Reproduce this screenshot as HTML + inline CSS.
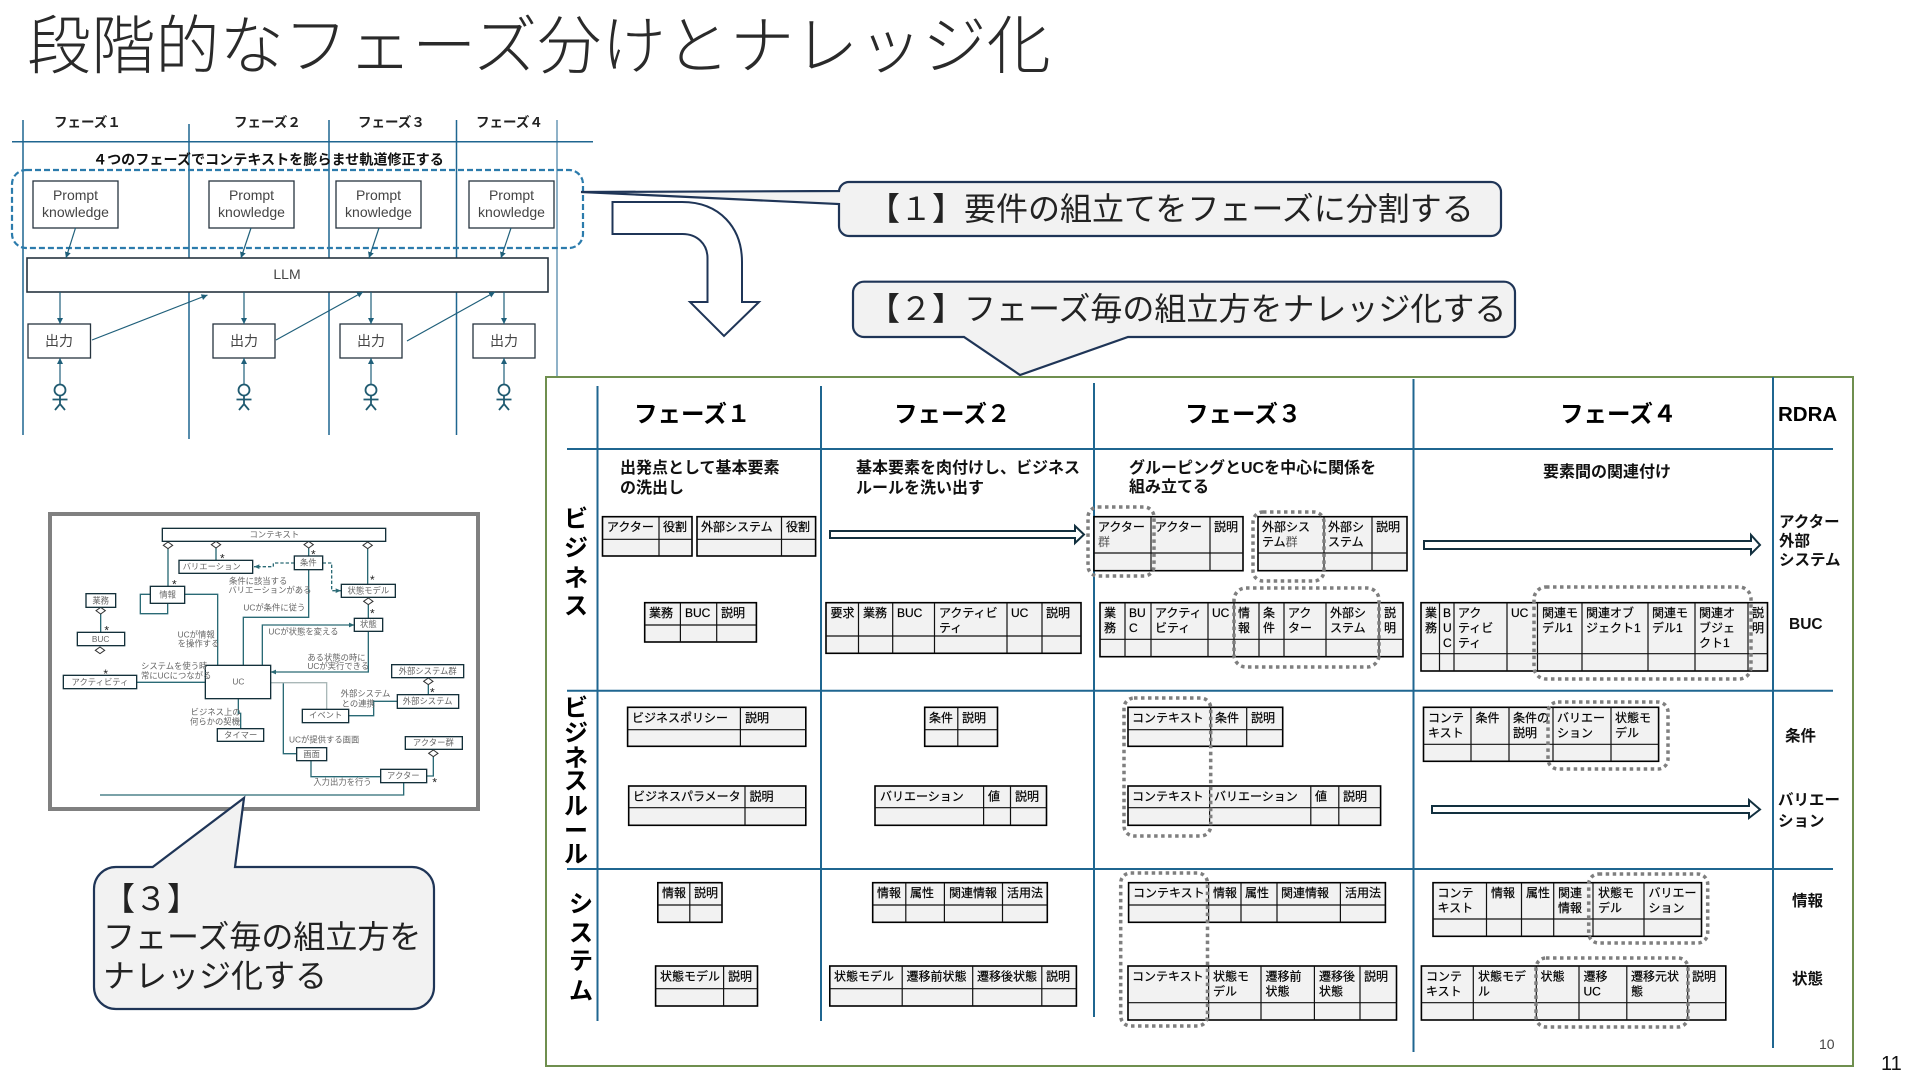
<!DOCTYPE html>
<html lang="ja">
<head>
<meta charset="utf-8">
<title>段階的なフェーズ分けとナレッジ化</title>
<style>
html,body{margin:0;padding:0;background:#fff;width:1920px;height:1080px;overflow:hidden}
svg{position:absolute;left:0;top:0;display:block}
text{font-family:"Liberation Sans","Noto Sans CJK JP",sans-serif;fill:#000}
.v{stroke:#1f6690;stroke-width:2;fill:none}
.v1{stroke:#1f6690;stroke-width:1.5;fill:none}
.box{fill:#fff;stroke:#26343f;stroke-width:1.3}
.bl{font-size:14px;text-anchor:middle;fill:#444}
.a{stroke:#1f5f7a;stroke-width:1.2;fill:none;marker-end:url(#m)}
.ph{font-size:13.5px;font-weight:700;fill:#222}
.hd{font-size:23.5px;font-weight:700}
.sub{font-size:16px;font-weight:700;fill:#111}
.side{font-size:24px;font-weight:700;text-anchor:middle}
.r{font-size:15.5px;font-weight:700;fill:#111}
.t rect{fill:#f2f2f2;stroke:#000;stroke-width:1.6}
.t path{stroke:#111;stroke-width:1.2;fill:none}
.t text{font-size:12px;fill:#000;stroke:#000;stroke-width:.2;transform:translateY(-1px)}
.d{fill:none;stroke:#7f7f7f;stroke-width:3.5;stroke-dasharray:3.5 3.5}
.ba{fill:#fff;stroke:#12303f;stroke-width:2}
.co{fill:#f2f2f2;stroke:#1f3557;stroke-width:2.2}
.ct{font-size:32px;fill:#222}
.u rect{fill:#fff;stroke:#14303a;stroke-width:4}
.u path{fill:none;stroke:#2a6a75;stroke-width:4}
.u path.k{fill:#fff;stroke:#333;stroke-width:3}
.u text{font-size:25px;fill:#666}
.u text.c{text-anchor:middle}
.u text.s{font-size:36px;fill:#222;text-anchor:middle}
</style>
</head>
<body>
<svg width="1920" height="1080" viewBox="0 0 1920 1080" xmlns="http://www.w3.org/2000/svg">
<defs>
<marker id="m" markerUnits="userSpaceOnUse" markerWidth="7" markerHeight="7" refX="6" refY="3" orient="auto"><path d="M0,0L6,3L0,6Z" fill="#1f5f7a"/></marker>
<marker id="m2" markerUnits="userSpaceOnUse" markerWidth="20" markerHeight="20" refX="16" refY="8" orient="auto"><path d="M0,1L16,8L0,15Z" fill="#2a6a75"/></marker>
</defs>

<!-- Title -->
<text x="27" y="68.500" style="font-size:64.2px;font-weight:300;fill:#2a2a2a">段階的なフェーズ分けとナレッジ化</text>

<!-- Left-top swimlanes -->
<path class="v1" d="M23,120V435M189,124V439M329,120V435M456.5,120V435M12,141.7H593"/>
<path stroke="#1f6690" stroke-width="1" fill="none" d="M557,120V376"/>
<text class="ph" x="54" y="127">フェーズ１</text>
<text class="ph" x="234" y="127">フェーズ２</text>
<text class="ph" x="358" y="127">フェーズ３</text>
<text class="ph" x="476" y="127">フェーズ４</text>
<text x="93" y="164.5" style="font-size:14.1px;font-weight:700;fill:#111">４つのフェーズでコンテキストを膨らませ軌道修正する</text>
<rect x="12" y="170" width="571" height="78" rx="14" fill="none" stroke="#2b7bac" stroke-width="2.2" stroke-dasharray="6 3"/>
<rect class="box" x="33" y="181" width="85" height="47"/>
<rect class="box" x="209" y="181" width="85" height="47"/>
<rect class="box" x="336" y="181" width="85" height="47"/>
<rect class="box" x="469" y="181" width="85" height="47"/>
<text class="bl" x="75.5" y="200">Prompt</text><text class="bl" x="75.5" y="217">knowledge</text>
<text class="bl" x="251.5" y="200">Prompt</text><text class="bl" x="251.5" y="217">knowledge</text>
<text class="bl" x="378.5" y="200">Prompt</text><text class="bl" x="378.5" y="217">knowledge</text>
<text class="bl" x="511.5" y="200">Prompt</text><text class="bl" x="511.5" y="217">knowledge</text>
<rect class="box" x="27" y="258" width="521" height="34" style="stroke-width:1.6"/>
<text class="bl" x="287" y="279">LLM</text>
<path class="a" d="M75.5,228L66,258"/><path class="a" d="M251,228L241,258"/><path class="a" d="M379,228L369,258"/><path class="a" d="M511,228L501,258"/>
<rect class="box" x="28" y="324" width="62.5" height="34"/>
<rect class="box" x="213" y="324" width="62" height="34"/>
<rect class="box" x="340" y="324" width="62" height="34"/>
<rect class="box" x="473" y="324" width="62" height="34"/>
<text class="bl" x="59" y="346">出力</text><text class="bl" x="244" y="346">出力</text><text class="bl" x="371" y="346">出力</text><text class="bl" x="504" y="346">出力</text>
<path class="a" d="M60,292V324"/><path class="a" d="M244,292V324"/><path class="a" d="M371,292V324"/><path class="a" d="M504,292V324"/>
<path class="a" d="M92,340L207.5,295"/><path class="a" d="M276,340L363,292"/><path class="a" d="M407,341L495,292"/>
<path class="a" d="M60,384V358"/><path class="a" d="M244,384V358"/><path class="a" d="M371,384V358"/><path class="a" d="M504,384V358"/>
<g fill="none" stroke="#1f5a70" stroke-width="1.8">
<circle cx="60" cy="390" r="5.5"/><path d="M60,395.5V404M52.5,399.5H67.5M55,410L60,404L65,410"/>
<circle cx="244" cy="390" r="5.5"/><path d="M244,395.5V404M236.5,399.5H251.5M239,410L244,404L249,410"/>
<circle cx="371" cy="390" r="5.5"/><path d="M371,395.5V404M363.5,399.5H378.5M366,410L371,404L376,410"/>
<circle cx="504" cy="390" r="5.5"/><path d="M504,395.5V404M496.5,399.5H511.5M499,410L504,404L509,410"/>
</g>

<!-- Bent arrow -->
<path d="M612.5,202H682C720,202 742,228 742,262V302H759L724,336L690,302H707.5V258C707.5,244 697,234 682.5,234H612.5Z" fill="#fff" stroke="#1f3557" stroke-width="2"/>

<!-- Metamodel picture frame -->
<rect x="50" y="514" width="428" height="295" fill="#fff" stroke="#808080" stroke-width="4"/>
<g class="u" transform="translate(30,500) scale(.33333)">
<path d="M414,146V259M558,144V181M836,144V168M1013,146V253M1015,314V355M212,342V397M361,283H331V341H413V310M464,283H563V496M836,209V352H640V496M320,547H526M760,548V761H800M956,647H1031V604H1102M1195,554V584M625,596V640H632V686M843,782V830H1052M1210,770V828H1190M1121,848V885H210"/>
<path style="stroke:#aab8b8" d="M722,548H890V628"/>
<path stroke-dasharray="10 6" d="M793,189H730V200H672" marker-end="url(#m2)"/>
<path stroke-dasharray="10 6" d="M878,189H905V272H933" marker-end="url(#m2)"/>
<path d="M697,496V375H973" marker-end="url(#m2)"/>
<path d="M1015,394V516H722" marker-end="url(#m2)"/>
<path class="k" d="M400,136L414,126L428,136L414,146ZM544,134L558,124L572,134L558,144ZM822,134L836,124L850,134L836,144ZM999,136L1013,126L1027,136L1013,146ZM1001,304L1015,294L1029,304L1015,314ZM198,332L212,322L226,332L212,342ZM196,451L210,441L224,451L210,461ZM1181,544L1195,534L1209,544L1195,554ZM1196,760L1210,750L1224,760L1210,770Z"/>
<rect x="397" y="85" width="670" height="39"/><text class="c" x="733" y="112">コンテキスト</text>
<rect x="447" y="181" width="221" height="39"/><text class="c" x="545" y="209">バリエーション</text>
<rect x="793" y="168" width="85" height="41"/><text class="c" x="835" y="197">条件</text>
<rect x="934" y="253" width="162" height="39"/><text class="c" x="1015" y="281">状態モデル</text>
<rect x="973" y="355" width="85" height="39"/><text class="c" x="1015" y="381">状態</text>
<rect x="361" y="259" width="103" height="51"/><text class="c" x="413" y="293">情報</text>
<rect x="168" y="281" width="89" height="41"/><text class="c" x="212" y="310">業務</text>
<rect x="142" y="397" width="142" height="40"/><text class="c" x="212" y="426">BUC</text>
<rect x="100" y="526" width="220" height="40"/><text class="c" x="210" y="555">アクティビティ</text>
<rect x="526" y="496" width="196" height="100"/><text class="c" x="625" y="553">UC</text>
<rect x="817" y="628" width="139" height="40"/><text class="c" x="887" y="654">イベント</text>
<rect x="1102" y="584" width="184" height="41"/><text class="c" x="1193" y="612">外部システム</text>
<rect x="1085" y="494" width="216" height="39"/><text class="c" x="1193" y="522">外部システム群</text>
<rect x="562" y="686" width="139" height="38"/><text class="c" x="632" y="714">タイマー</text>
<rect x="800" y="743" width="90" height="39"/><text class="c" x="845" y="771">画面</text>
<rect x="1052" y="808" width="138" height="40"/><text class="c" x="1120" y="836">アクター</text>
<rect x="1126" y="710" width="171" height="38"/><text class="c" x="1210" y="737">アクター群</text>
<text class="s" x="433" y="266">*</text><text class="s" x="577" y="188">*</text><text class="s" x="850" y="175">*</text><text class="s" x="1027" y="252">*</text><text class="s" x="1027" y="352">*</text><text class="s" x="230" y="403">*</text><text class="s" x="227" y="534">*</text><text class="s" x="1207" y="590">*</text><text class="s" x="1214" y="860">*</text>
<text x="597" y="252">条件に該当する</text><text x="595" y="279">バリエーションがある</text>
<text x="640" y="332">UCが条件に従う</text>
<text x="443" y="412">UCが情報</text><text x="443" y="439">を操作する</text>
<text x="715" y="404">UCが状態を変える</text>
<text x="832" y="481">ある状態の時に</text><text x="832" y="507">UCが実行できる</text>
<text x="333" y="507">システムを使う時</text><text x="333" y="536">常にUCにつながる</text>
<text x="932" y="590">外部システム</text><text x="935" y="619">との連携</text>
<text x="482" y="645">ビジネス上の</text><text x="480" y="674">何らかの契機</text>
<text x="777" y="727">UCが提供する画面</text>
<text x="850" y="855">入力出力を行う</text>
</g>

<!-- Callouts -->
<path class="co" d="M849,182H1491a10,10 0 0 1 10,10V226a10,10 0 0 1 -10,10H849a10,10 0 0 1 -10,-10V204L581,192L839,191a10,10 0 0 1 10,-9Z"/>
<text class="ct" x="868" y="220">【１】要件の組立てをフェーズに分割する</text>
<path class="co" d="M864,281.7H1504a11,11 0 0 1 11,11V326a11,11 0 0 1 -11,11H1128L1020,375L964,337H864a11,11 0 0 1 -11,-11V292.7a11,11 0 0 1 11,-11Z"/>
<path class="co" d="M116,867H152.7L244,798L235,867H412a22,22 0 0 1 22,22V987a22,22 0 0 1 -22,22H116a22,22 0 0 1 -22,-22V889a22,22 0 0 1 22,-22Z"/>
<text class="ct" x="868" y="320">【２】フェーズ毎の組立方をナレッジ化する</text>
<text class="ct" x="103" y="910">【３】</text>
<text class="ct" x="103" y="948">フェーズ毎の組立方を</text>
<text class="ct" x="103" y="987">ナレッジ化する</text>

<!-- Main frame -->
<rect x="546" y="377" width="1307" height="689" fill="#fff" stroke="#6f8f4f" stroke-width="2" style="fill-opacity:0"/>
<path class="v" d="M597.500,386V1021M821,386V1021M1094,383V1017M1413.500,379V1052M1773,377V1048M567,449H1833M567,690.700H1833M567,869H1833"/>

<!-- Header -->
<text class="hd" x="634" y="422">フェーズ１</text>
<text class="hd" x="894" y="422">フェーズ２</text>
<text class="hd" x="1185" y="422">フェーズ３</text>
<text class="hd" x="1560" y="422">フェーズ４</text>
<text x="1778" y="421" style="font-size:20.500px;font-weight:700">RDRA</text>

<text class="sub" x="620" y="473">出発点として基本要素</text><text class="sub" x="620" y="493">の洗出し</text>
<text class="sub" x="856" y="473">基本要素を肉付けし、ビジネス</text><text class="sub" x="856" y="493">ルールを洗い出す</text>
<text class="sub" x="1129" y="473">グルーピングとUCを中心に関係を</text><text class="sub" x="1129" y="492">組み立てる</text>
<text class="sub" x="1543" y="477">要素間の関連付け</text>

<!-- Side labels -->
<text class="side" x="576" y="527">ビ</text><text class="side" x="576" y="556">ジ</text><text class="side" x="576" y="586">ネ</text><text class="side" x="576" y="614">ス</text>
<text class="side" x="576" y="716">ビ</text><text class="side" x="576" y="741">ジ</text><text class="side" x="576" y="766">ネ</text><text class="side" x="576" y="789">ス</text><text class="side" x="576" y="814">ル</text><text class="side" x="576" y="839">ー</text><text class="side" x="576" y="862">ル</text>
<text class="side" x="581" y="912">シ</text><text class="side" x="581" y="941">ス</text><text class="side" x="581" y="969">テ</text><text class="side" x="581" y="999">ム</text>

<!-- Right labels -->
<text class="r" x="1779" y="527">アクター</text><text class="r" x="1779" y="546">外部</text><text class="r" x="1779" y="565">システム</text>
<text class="r" x="1789" y="629">BUC</text>
<text class="r" x="1785" y="741">条件</text>
<text class="r" x="1778" y="805">バリエー</text><text class="r" x="1778" y="826">ション</text>
<text class="r" x="1792" y="906">情報</text><text class="r" x="1792" y="984">状態</text>
<text x="1819" y="1049" style="font-size:14px;fill:#444">10</text>
<text x="1881" y="1070" style="font-size:20px;fill:#111">11</text>

<!-- Block arrows -->
<path class="ba" d="M830,531H1075V526L1084,534.500L1075,543V538H830Z"/>
<path class="ba" d="M1424,541H1751V535L1760,545L1751,554V549H1424Z"/>
<path class="ba" d="M1432,806H1749V800L1760,809.500L1749,818V813H1432Z"/>

<!-- Phase 1 -->
<g class="t"><rect x="602.500" y="516.700" width="89.500" height="39.300"/><path d="M659,516.700V556M602.500,539.300H692"/><text x="607" y="532">アクター</text><text x="663" y="532">役割</text></g>
<g class="t"><rect x="697" y="516.700" width="118.600" height="39.300"/><path d="M781.500,516.700V556M697,539.300H815.600"/><text x="701" y="532">外部システム</text><text x="786" y="532">役割</text></g>
<g class="t"><rect x="644.700" y="602.700" width="111.700" height="39.300"/><path d="M680.400,602.700V642M716.700,602.700V642M644.700,625H756.400"/><text x="649" y="618">業務</text><text x="685" y="618">BUC</text><text x="721" y="618">説明</text></g>
<g class="t"><rect x="627.600" y="707.300" width="178.200" height="39"/><path d="M740.400,707.300V746.300M627.600,729.700H805.800"/><text x="632" y="723">ビジネスポリシー</text><text x="745" y="723">説明</text></g>
<g class="t"><rect x="628.700" y="786" width="177.100" height="39.300"/><path d="M745,786V825.300M628.700,807.700H805.800"/><text x="633" y="801.500">ビジネスパラメータ</text><text x="749.500" y="801.500">説明</text></g>
<g class="t"><rect x="657.800" y="882.700" width="64.200" height="39.600"/><path d="M689.800,882.700V922.300M657.800,905H722"/><text x="662" y="898">情報</text><text x="694" y="898">説明</text></g>
<g class="t"><rect x="655.600" y="966" width="101.900" height="40"/><path d="M723.600,966V1006M655.600,988.700H757.500"/><text x="660" y="981.500">状態モデル</text><text x="728" y="981.500">説明</text></g>

<!-- Phase 2 -->
<g class="t"><rect x="826" y="602.700" width="255" height="50.600"/><path d="M858.500,602.700V653.300M892.700,602.700V653.300M934.500,602.700V653.300M1007,602.700V653.300M1042,602.700V653.300M826,636H1081"/><text x="830.500" y="618">要求</text><text x="863" y="618">業務</text><text x="897" y="618">BUC</text><text x="939" y="618">アクティビ</text><text x="939" y="633">ティ</text><text x="1011" y="618">UC</text><text x="1046" y="618">説明</text></g>
<g class="t"><rect x="924.700" y="707.300" width="72.800" height="39"/><path d="M957.800,707.300V746.300M924.700,729.700H997.500"/><text x="929" y="723">条件</text><text x="962" y="723">説明</text></g>
<g class="t"><rect x="875" y="786" width="171.500" height="39.300"/><path d="M983.600,786V825.300M1010.500,786V825.300M875,807.700H1046.500"/><text x="880" y="801.500">バリエーション</text><text x="988" y="801.500">値</text><text x="1015" y="801.500">説明</text></g>
<g class="t"><rect x="872.700" y="882.700" width="174.600" height="39.600"/><path d="M905.800,882.700V922.300M944.400,882.700V922.300M1002.500,882.700V922.300M872.700,905H1047.300"/><text x="877" y="898">情報</text><text x="910" y="898">属性</text><text x="949" y="898">関連情報</text><text x="1007" y="898">活用法</text></g>
<g class="t"><rect x="829.800" y="966" width="246.600" height="40"/><path d="M902.200,966V1006M972.700,966V1006M1041.800,966V1006M829.800,988.700H1076.400"/><text x="834" y="981.500">状態モデル</text><text x="906.500" y="981.500">遷移前状態</text><text x="977" y="981.500">遷移後状態</text><text x="1046" y="981.500">説明</text></g>

<!-- Phase 3 -->
<g class="t"><rect x="1094" y="516.700" width="149" height="54"/><path d="M1151,516.700V570.700M1210,516.700V570.700M1094,553H1243"/><text x="1098" y="532">アクター</text><text x="1098" y="547" style="fill:#555;stroke:none">群</text><text x="1155" y="532">アクター</text><text x="1214" y="532">説明</text></g>
<g class="t"><rect x="1258" y="516.700" width="149" height="54"/><path d="M1324,516.700V570.700M1372,516.700V570.700M1258,553H1407"/><text x="1262" y="532">外部シス</text><text x="1262" y="547">テム<tspan style="fill:#555;stroke:none">群</tspan></text><text x="1328" y="532">外部シ</text><text x="1328" y="547">ステム</text><text x="1376" y="532">説明</text></g>
<g class="t"><rect x="1100" y="602.700" width="303" height="54"/><path d="M1125,602.700V656.700M1151,602.700V656.700M1208,602.700V656.700M1234,602.700V656.700M1259,602.700V656.700M1284,602.700V656.700M1326,602.700V656.700M1379,602.700V656.700M1100,639.300H1403"/><text x="1104" y="618">業</text><text x="1104" y="633">務</text><text x="1129" y="618">BU</text><text x="1129" y="633">C</text><text x="1155" y="618">アクティ</text><text x="1155" y="633">ビティ</text><text x="1212" y="618">UC</text><text x="1238" y="618">情</text><text x="1238" y="633">報</text><text x="1263" y="618">条</text><text x="1263" y="633">件</text><text x="1288" y="618">アク</text><text x="1288" y="633">ター</text><text x="1330" y="618">外部シ</text><text x="1330" y="633">ステム</text><text x="1384" y="618">説</text><text x="1384" y="633">明</text></g>
<g class="t"><rect x="1128" y="707.300" width="154.700" height="39"/><path d="M1210.700,707.300V746.300M1246.700,707.300V746.300M1128,729.700H1282.700"/><text x="1132" y="723">コンテキスト</text><text x="1215" y="723">条件</text><text x="1251" y="723">説明</text></g>
<g class="t"><rect x="1128" y="786" width="252.600" height="39.300"/><path d="M1209.600,786V825.300M1310.800,786V825.300M1338.800,786V825.300M1128,807.700H1380.600"/><text x="1132" y="801.500">コンテキスト</text><text x="1214" y="801.500">バリエーション</text><text x="1315" y="801.500">値</text><text x="1343" y="801.500">説明</text></g>
<g class="t"><rect x="1128.600" y="882.700" width="256.800" height="39.600"/><path d="M1208.600,882.700V922.300M1241,882.700V922.300M1277,882.700V922.300M1340.400,882.700V922.300M1128.600,905H1385.400"/><text x="1133" y="898">コンテキスト</text><text x="1213" y="898">情報</text><text x="1245" y="898">属性</text><text x="1281" y="898">関連情報</text><text x="1345" y="898">活用法</text></g>
<g class="t"><rect x="1128" y="966" width="268.500" height="54"/><path d="M1208.600,966V1020M1261,966V1020M1314.400,966V1020M1360,966V1020M1128,1002.700H1396.500"/><text x="1132" y="981.500">コンテキスト</text><text x="1213" y="981.500">状態モ</text><text x="1213" y="996.500">デル</text><text x="1265.500" y="981.500">遷移前</text><text x="1265.500" y="996.500">状態</text><text x="1319" y="981.500">遷移後</text><text x="1319" y="996.500">状態</text><text x="1364" y="981.500">説明</text></g>

<!-- Phase 4 -->
<g class="t"><rect x="1421" y="602.700" width="346.500" height="68.300"/><path d="M1439.500,602.700V671M1454,602.700V671M1507,602.700V671M1537.500,602.700V671M1582,602.700V671M1648,602.700V671M1695,602.700V671M1748,602.700V671M1421,653.700H1767.500"/><text x="1425" y="618">業</text><text x="1425" y="633">務</text><text x="1443" y="618">B</text><text x="1443" y="633">U</text><text x="1443" y="648">C</text><text x="1458" y="618">アク</text><text x="1458" y="633">ティビ</text><text x="1458" y="648">ティ</text><text x="1511" y="618">UC</text><text x="1542" y="618">関連モ</text><text x="1542" y="633">デル1</text><text x="1586" y="618">関連オブ</text><text x="1586" y="633">ジェクト1</text><text x="1652" y="618">関連モ</text><text x="1652" y="633">デル1</text><text x="1699" y="618">関連オ</text><text x="1699" y="633">ブジェ</text><text x="1699" y="648">クト1</text><text x="1752" y="618">説</text><text x="1752" y="633">明</text></g>
<g class="t"><rect x="1423.500" y="707.300" width="235.100" height="54"/><path d="M1471,707.300V761.300M1509,707.300V761.300M1553,707.300V761.300M1611,707.300V761.300M1423.500,744.300H1658.600"/><text x="1428" y="723">コンテ</text><text x="1428" y="738">キスト</text><text x="1475.500" y="723">条件</text><text x="1513" y="723">条件の</text><text x="1513" y="738">説明</text><text x="1557" y="723">バリエー</text><text x="1557" y="738">ション</text><text x="1615" y="723">状態モ</text><text x="1615" y="738">デル</text></g>
<g class="t"><rect x="1433" y="882.700" width="268.500" height="53.600"/><path d="M1486.500,882.700V936.300M1521.500,882.700V936.300M1553.700,882.700V936.300M1593,882.700V936.300M1644,882.700V936.300M1433,919H1701.500"/><text x="1437.500" y="898">コンテ</text><text x="1437.500" y="913">キスト</text><text x="1491" y="898">情報</text><text x="1526" y="898">属性</text><text x="1558" y="898">関連</text><text x="1558" y="913">情報</text><text x="1598" y="898">状態モ</text><text x="1598" y="913">デル</text><text x="1648.500" y="898">バリエー</text><text x="1648.500" y="913">ション</text></g>
<g class="t"><rect x="1421.400" y="966" width="304.400" height="54"/><path d="M1473.300,966V1020M1536.300,966V1020M1579,966V1020M1626.800,966V1020M1687.700,966V1020M1421.400,1002.700H1725.800"/><text x="1426" y="981.500">コンテ</text><text x="1426" y="996.500">キスト</text><text x="1478" y="981.500">状態モデ</text><text x="1478" y="996.500">ル</text><text x="1540.500" y="981.500">状態</text><text x="1583.500" y="981.500">遷移</text><text x="1583.500" y="996.500">UC</text><text x="1631" y="981.500">遷移元状</text><text x="1631" y="996.500">態</text><text x="1692" y="981.500">説明</text></g>

<!-- Dotted highlights -->
<rect class="d" x="1088" y="507" width="66" height="69" rx="10"/>
<rect class="d" x="1253" y="512" width="71" height="69" rx="10"/>
<rect class="d" x="1234" y="588" width="145" height="79" rx="12"/>
<rect class="d" x="1534" y="587" width="217" height="92" rx="12"/>
<rect class="d" x="1124" y="698" width="86.700" height="138" rx="10"/>
<rect class="d" x="1548" y="702" width="120" height="67" rx="10"/>
<rect class="d" x="1120.700" y="873" width="86.800" height="153" rx="10"/>
<rect class="d" x="1588.700" y="874" width="119" height="69" rx="10"/>
<rect class="d" x="1536" y="958" width="152" height="69" rx="10"/>
</svg>
</body>
</html>
